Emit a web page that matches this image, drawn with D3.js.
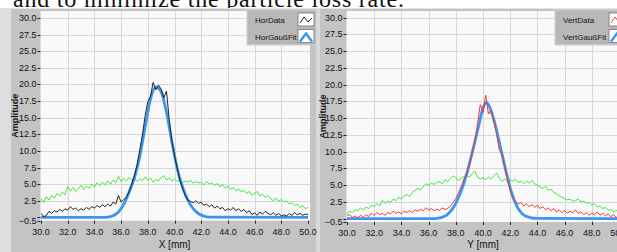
<!DOCTYPE html>
<html lang="en">
<head>
<meta charset="utf-8">
<title>Hor / Vert beam profiles</title>
<script src="https://d3js.org/d3.v7.min.js"></script>
<style>
  body { margin: 0; background: #fff; }
  svg { display: block; }
</style>
</head>
<body>
<div id="chart"></div>
<script>
// ---- data ----
// positions of the measured samples, mm (one every 0.2 mm)
const samplePos = d3.range(0, 101).map(i => 30 + i * 0.2);

// horizontal profile, measured (black)
const horData = [0.6,0.1,0.3,0.9,0.6,1.0,0.8,1.2,0.9,1.3, 1.1,1.6,1.2,1.4,1.0,1.3,1.1,1.5,1.2,1.6,
  1.4,1.8,1.5,1.9,1.6,2.0,1.7,2.3,2.0,3.3, 2.3,2.7,3.0,3.9,5.0,6.3,7.9,10.2,12.4,15.3,
  17.4,18.2,20.3,19.2,19.9,19.3,18.0,19.0,14.8,11.6, 9.3,7.4,5.6,4.4,3.3,2.6,2.4,2.2,2.5,2.1,
  2.3,1.8,2.0,1.6,1.9,1.4,1.7,1.3,1.5,1.0, 1.3,1.1,1.5,1.0,1.3,0.9,1.2,0.7,1.0,0.4,
  0.7,0.3,0.8,0.5,0.9,0.6,0.4,0.7,0.3,0.6, 0.2,0.4,0.2,0.6,0.3,0.7,0.4,0.6,0.3,0.5, 0.4];
// horizontal, broad green trace
const horGreen = [2.8,2.2,3.1,2.6,3.3,2.9,3.6,3.2,3.8,3.4, 4.6,4.0,4.5,3.9,4.3,4.8,4.2,4.7,4.4,5.0,
  4.6,5.2,4.8,5.3,4.9,5.5,5.0,5.6,5.2,6.2, 5.4,5.9,5.5,6.0,5.6,5.9,5.4,5.8,5.5,6.1,
  5.6,5.9,5.3,5.7,5.5,6.0,6.3,5.6,5.9,5.4, 5.8,5.4,5.6,5.2,5.5,5.3,5.6,5.1,5.4,5.2,
  5.3,4.9,5.4,5.0,5.2,4.8,5.1,4.6,4.9,4.4, 4.7,4.2,4.5,4.0,4.3,3.8,4.1,3.6,3.9,3.3,
  3.6,3.9,3.2,3.5,3.0,3.3,2.8,2.5,2.9,2.4, 2.7,2.3,2.5,2.0,2.2,1.8,2.0,1.5,1.8,1.3, 1.5];
// horizontal Gauss fit (blue)
const horFitPos = [30,34.6,35.0,35.4,35.8,36.2,36.6,37.0,37.4,37.8,38.2,38.6,39.0,39.4,39.8,40.2,40.6,41.0,41.4,41.8,42.2,42.6,50];
const horFit    = [0,0,0.05,0.25,0.8,2.0,3.8,6.0,9.2,13.6,17.8,19.6,18.9,15.8,11.4,7.4,4.6,2.6,1.3,0.55,0.2,0.05,0];

// vertical profile, measured (red)
const vertData = [0.5,0.6,0.2,0.4,0.1,0.5,0.2,0.6,0.3,0.8, 0.5,0.9,0.6,0.8,0.5,0.9,0.7,1.1,0.8,1.0,
  0.7,1.1,0.9,1.2,0.9,1.3,1.1,1.4,1.2,1.6, 1.3,1.5,1.2,1.4,1.2,1.6,1.4,1.5,1.9,2.4,
  3.0,3.9,4.8,5.9,6.7,8.0,9.8,11.6,14.2,17.0, 15.8,18.4,15.6,16.2,14.6,12.6,10.2,9.6,7.6,5.8,
  4.2,3.0,2.6,2.2,2.4,1.9,2.2,1.8,2.1,1.7, 2.0,1.5,1.8,1.3,1.6,1.2,1.5,1.0,1.3,0.9,
  1.2,0.8,1.1,0.9,1.3,0.8,1.0,0.6,0.9,0.5, 0.8,0.6,1.0,0.5,0.8,0.4,0.7,0.3,0.6,0.2, 0.4];
// vertical, broad green trace
const vertGreen = [0.8,1.1,0.9,1.3,1.2,1.6,1.3,1.7,1.5,2.0, 1.8,2.2,1.9,2.7,2.3,2.6,2.4,2.9,2.7,3.2,
  2.9,3.4,3.6,3.3,3.9,4.2,4.5,4.3,4.8,5.2, 5.0,5.3,5.1,5.4,5.5,5.2,5.8,5.5,6.0,6.4,
  6.1,5.7,6.0,6.3,6.5,6.2,6.7,7.1,6.2,5.9, 6.1,5.8,6.2,5.9,6.4,6.8,6.0,5.6,5.9,5.5,
  5.8,5.6,5.9,5.4,5.6,5.2,5.6,5.3,5.7,5.2, 5.0,4.7,4.5,4.8,4.2,4.4,3.9,3.7,3.4,3.2,
  3.0,2.8,2.9,2.6,2.7,2.9,2.5,2.6,2.3,2.4, 2.0,2.2,1.8,1.9,1.5,1.7,1.3,1.4,1.0,1.2, 1.5];
// vertical Gauss fit (blue)
const vertFitPos = [30,36.4,36.9,37.3,37.7,38.1,38.5,38.9,39.3,39.7,40.0,40.25,40.5,40.9,41.3,41.7,42.1,42.5,42.9,43.4,44.0,50];
const vertFit    = [0,0,0.15,0.5,1.3,2.7,4.7,7.4,10.6,14.0,16.5,17.3,16.6,14.0,10.5,7.0,3.9,1.8,0.7,0.2,0.03,0];

// axis ticks
const xTicks = [30, 32, 34, 36, 38, 40, 42, 44, 46, 48, 50];
const yTicks = [-0.5, 2.5, 5, 7.5, 10, 12.5, 15, 17.5, 20, 22.5, 25, 27.5, 30];

const W = 617, H = 252;
const tickFont = "'Liberation Sans Narrow','Liberation Sans',Arial,sans-serif";

const svg = d3.select("#chart").append("svg")
  .attr("width", W).attr("height", H);

// page text cut off at the top
svg.append("text")
  .attr("x", 13).attr("y", 7)
  .attr("font-family", "'Liberation Serif','Times New Roman',serif")
  .attr("font-size", 24)
  .attr("textLength", 391)
  .attr("fill", "#111")
  .text("and to minimize the particle loss rate.");

// panel backgrounds
svg.append("rect").attr("x", 0).attr("y", 8).attr("width", 11).attr("height", H - 8).attr("fill", "#dedede");
svg.append("rect").attr("x", 11).attr("y", 8).attr("width", 305).attr("height", H - 8).attr("fill", "#c4c4c4");
svg.append("rect").attr("x", 316).attr("y", 8).attr("width", 4).attr("height", H - 8).attr("fill", "#dadada");
svg.append("rect").attr("x", 320).attr("y", 8).attr("width", W - 320).attr("height", H - 8).attr("fill", "#c4c4c4");
svg.append("line").attr("x1", 11).attr("x2", W).attr("y1", 8.5).attr("y2", 8.5).attr("stroke", "#e4e4e4");

function drawPanel(cfg) {
  const x = d3.scaleLinear().domain([30, 50]).range(cfg.xRange);
  const y = d3.scaleLinear().domain([-0.5, 30]).range(cfg.yRange);
  const top = 11, bottom = y(-0.5);
  const left = cfg.xRange[0] - 0.5, right = cfg.plotRight;

  const g = svg.append("g");
  const clipId = "clip" + cfg.id;
  g.append("clipPath").attr("id", clipId)
    .append("rect").attr("x", left).attr("y", top).attr("width", right - left).attr("height", bottom - top);

  // plot area
  g.append("rect").attr("x", left).attr("y", top).attr("width", right - left).attr("height", bottom - top)
    .attr("fill", "#f9f9f9");

  // grid
  g.selectAll(".gx").data(xTicks.slice(1, -1)).join("line")
    .attr("x1", d => Math.round(x(d)) + 0.5).attr("x2", d => Math.round(x(d)) + 0.5)
    .attr("y1", top).attr("y2", bottom)
    .attr("stroke", "#d6d6d6");
  g.selectAll(".gy").data(yTicks.slice(1)).join("line")
    .attr("x1", left).attr("x2", right)
    .attr("y1", d => Math.round(y(d)) + 0.5).attr("y2", d => Math.round(y(d)) + 0.5)
    .attr("stroke", "#d6d6d6");

  // curves
  const plot = g.append("g").attr("clip-path", `url(#${clipId})`);
  const line = d3.line().x(d => x(d[0])).y(d => y(d[1]));
  const smooth = d3.line().x(d => x(d[0])).y(d => y(d[1])).curve(d3.curveMonotoneX);

  plot.append("path").datum(d3.zip(samplePos, cfg.green))
    .attr("d", line).attr("fill", "none").attr("stroke", "#3fe83a").attr("stroke-width", 1);
  plot.append("path").datum(d3.zip(cfg.fitPos, cfg.fit))
    .attr("d", smooth).attr("fill", "none").attr("stroke", "#3a96ee").attr("stroke-width", 2.8);
  plot.append("path").datum(d3.zip(samplePos, cfg.data))
    .attr("d", line).attr("fill", "none").attr("stroke", cfg.dataColor).attr("stroke-width", 1);

  // y axis
  g.selectAll(".ty").data(yTicks.concat([0])).join("line")
    .attr("x1", left - 3).attr("x2", left)
    .attr("y1", d => Math.round(y(d)) + 0.5).attr("y2", d => Math.round(y(d)) + 0.5)
    .attr("stroke", "#222");
  g.selectAll(".ly").data(yTicks).join("text")
    .attr("x", left - 4).attr("y", d => y(d) + 3)
    .attr("text-anchor", "end")
    .attr("font-family", tickFont).attr("font-size", 9).attr("fill", "#111")
    .text(d => d3.format(".1f")(d));
  g.append("text")
    .attr("transform", `translate(${cfg.ylabelX},${(top + bottom) / 2}) rotate(-90)`)
    .attr("text-anchor", "middle")
    .attr("font-family", "'Liberation Sans',Arial,sans-serif").attr("font-weight", "bold")
    .attr("font-size", 9).attr("fill", "#111")
    .text("Amplitude");

  // x axis
  g.selectAll(".tx").data(xTicks).join("line")
    .attr("x1", d => Math.round(x(d)) + 0.5).attr("x2", d => Math.round(x(d)) + 0.5)
    .attr("y1", bottom).attr("y2", bottom + 3)
    .attr("stroke", "#222");
  g.selectAll(".lx").data(xTicks).join("text")
    .attr("x", d => x(d)).attr("y", bottom + 14)
    .attr("text-anchor", "middle")
    .attr("font-family", tickFont).attr("font-size", 9).attr("fill", "#111")
    .text(d => d3.format(".1f")(d));
  g.append("text")
    .attr("x", x(40)).attr("y", 248)
    .attr("text-anchor", "middle")
    .attr("font-family", tickFont).attr("font-size", 10).attr("fill", "#111")
    .text(cfg.xlabel);

  // legend
  const lg = svg.append("g");
  lg.append("rect").attr("x", cfg.legendX).attr("y", 10).attr("width", cfg.legendW).attr("height", 35)
    .attr("fill", "#b8b8b8").attr("stroke", "#d0d0d0");
  cfg.legend.forEach((name, i) => {
    const yy = 20 + i * 16.5;
    lg.append("text")
      .attr("x", cfg.legendX + 8).attr("y", yy + 3)
      .attr("font-family", tickFont).attr("font-size", 8).attr("fill", "#111")
      .text(name);
    const bx = cfg.legendX + cfg.legendW - 18;
    lg.append("rect").attr("x", bx).attr("y", yy - 7).attr("width", 16).attr("height", 13)
      .attr("fill", "#fff").attr("stroke", "#888");
    const sym = i === 0
      ? [[bx + 2, yy + 3], [bx + 6, yy - 3], [bx + 10, yy + 2], [bx + 14, yy - 2]]
      : [[bx + 2, yy + 5], [bx + 8, yy - 3], [bx + 14, yy + 5]];
    lg.append("path").attr("d", d3.line()(sym)).attr("fill", "none")
      .attr("stroke", i === 0 ? cfg.dataColor : "#3a96ee")
      .attr("stroke-width", i === 0 ? 1 : 2.5);
  });
}

drawPanel({
  id: "L", xRange: [41, 308], yRange: [220.7, 18], plotRight: 310, ylabelX: 18,
  data: horData, green: horGreen, fitPos: horFitPos, fit: horFit, dataColor: "#222",
  xlabel: "X [mm]", legend: ["HorData", "HorGaußFit"], legendX: 247, legendW: 69
});
drawPanel({
  id: "R", xRange: [347, 619], yRange: [222, 17.5], plotRight: 617, ylabelX: 326,
  data: vertData, green: vertGreen, fitPos: vertFitPos, fit: vertFit, dataColor: "#f03a3a",
  xlabel: "Y [mm]", legend: ["VertData", "VertGaußFit"], legendX: 555, legendW: 72
});
</script>
</body>
</html>
